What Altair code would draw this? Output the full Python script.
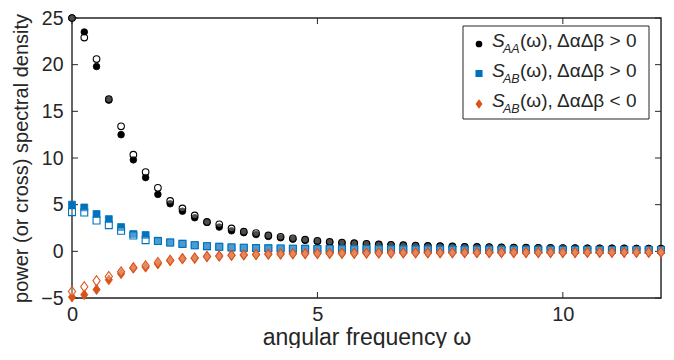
import altair as alt
import pandas as pd

# ---------------- data ----------------
omega = [0.0, 0.25, 0.5, 0.75, 1.0, 1.25, 1.5, 1.75, 2.0, 2.25, 2.5, 2.75,
         3.0, 3.25, 3.5, 3.75, 4.0, 4.25, 4.5, 4.75, 5.0, 5.25, 5.5, 5.75,
         6.0, 6.25, 6.5, 6.75, 7.0, 7.25, 7.5, 7.75, 8.0, 8.25, 8.5, 8.75,
         9.0, 9.25, 9.5, 9.75, 10.0, 10.25, 10.5, 10.75, 11.0, 11.25, 11.5, 11.75, 12.0]

saa_filled = [25.0, 23.5, 19.8, 16.2, 12.5, 9.8, 7.9, 6.1, 5.1, 4.3, 3.6, 3.1,
              2.6, 2.2, 2.0, 1.8, 1.6, 1.45, 1.3, 1.18, 1.07, 0.98, 0.9, 0.84,
              0.78, 0.72, 0.68, 0.64, 0.6, 0.57, 0.54, 0.51, 0.48, 0.46, 0.44, 0.42,
              0.4, 0.39, 0.37, 0.36, 0.35, 0.34, 0.33, 0.32, 0.31, 0.3, 0.3, 0.29, 0.28]
saa_open = [25.0, 22.9, 20.6, 16.3, 13.4, 10.35, 8.5, 6.8, 5.4, 4.6, 3.85, 3.15,
            2.9, 2.45, 2.1, 1.95, 1.7, 1.55, 1.4, 1.25, 1.12, 1.02, 0.94, 0.87,
            0.8, 0.74, 0.7, 0.66, 0.62, 0.58, 0.55, 0.52, 0.49, 0.47, 0.45, 0.43,
            0.41, 0.39, 0.38, 0.37, 0.35, 0.34, 0.33, 0.32, 0.31, 0.31, 0.3, 0.29, 0.29]

sab_pos_filled = [5.0, 4.7, 4.0, 3.45, 2.6, 1.85, 1.75, 1.13, 0.95, 0.8, 0.65, 0.55,
                  0.48, 0.42, 0.38, 0.35, 0.32, 0.3, 0.28, 0.27, 0.26, 0.25, 0.24, 0.23,
                  0.22, 0.22, 0.21, 0.21, 0.2, 0.2, 0.19, 0.19, 0.18, 0.18, 0.18, 0.17,
                  0.17, 0.17, 0.16, 0.16, 0.16, 0.16, 0.15, 0.15, 0.15, 0.15, 0.15, 0.14, 0.14]
sab_pos_open = [4.2, 4.15, 3.3, 2.8, 2.2, 1.7, 1.2, 1.1, 0.95, 0.8, 0.65, 0.55,
                0.48, 0.42, 0.38, 0.35, 0.32, 0.3, 0.28, 0.27, 0.26, 0.25, 0.24, 0.23,
                0.22, 0.22, 0.21, 0.21, 0.2, 0.2, 0.19, 0.19, 0.18, 0.18, 0.18, 0.17,
                0.17, 0.17, 0.16, 0.16, 0.16, 0.16, 0.15, 0.15, 0.15, 0.15, 0.15, 0.14, 0.14]

sab_neg_filled = [-4.9, -4.65, -4.1, -3.05, -2.4, -1.8, -1.7, -1.35, -1.0, -0.8, -0.75, -0.55,
                  -0.5, -0.42, -0.38, -0.34, -0.3, -0.28, -0.26, -0.24, -0.23, -0.22, -0.21, -0.2,
                  -0.19, -0.18, -0.18, -0.17, -0.16, -0.16, -0.15, -0.15, -0.14, -0.14, -0.14, -0.13,
                  -0.13, -0.13, -0.12, -0.12, -0.12, -0.12, -0.11, -0.11, -0.11, -0.11, -0.1, -0.1, -0.1]
sab_neg_open = [-4.3, -3.8, -3.15, -2.7, -2.2, -1.75, -1.55, -1.2, -0.95, -0.78, -0.72, -0.55,
                -0.5, -0.42, -0.38, -0.34, -0.3, -0.28, -0.26, -0.24, -0.23, -0.22, -0.21, -0.2,
                -0.19, -0.18, -0.18, -0.17, -0.16, -0.16, -0.15, -0.15, -0.14, -0.14, -0.14, -0.13,
                -0.13, -0.13, -0.12, -0.12, -0.12, -0.12, -0.11, -0.11, -0.11, -0.11, -0.1, -0.1, -0.1]

x_ticks = [0, 5, 10]
y_ticks = [-5, 0, 5, 10, 15, 20, 25]

legend_labels = ["AA", "AB", "AB"]
legend_rest = ["(ω), ΔαΔβ > 0", "(ω), ΔαΔβ > 0", "(ω), ΔαΔβ < 0"]

# ---------------- styling ----------------
W, H = 589, 280
TOP = 10
FONT = "Liberation Sans"
AX = "#262626"
BLACK, BLUE, ORANGE = "#000000", "#0072BD", "#D95319"
DIAMOND = "M0,-1L0.72,0L0,1L-0.72,0Z"

xs = alt.Scale(domain=[0, 12], nice=False, zero=False)
ys = alt.Scale(domain=[-5, 25], nice=False, zero=False)

x_axis = alt.Axis(values=x_ticks, title="angular frequency ω", ticks=False, tickSize=0,
                  domain=False, grid=False, labelFontSize=20, titleFontSize=23,
                  titleFontWeight="normal", labelFont=FONT, titleFont=FONT, labelFlush=False,
                  labelPadding=6, titlePadding=2, labelColor=AX, titleColor=AX)
y_axis = alt.Axis(values=y_ticks, title="power (or cross) spectral density", ticks=False,
                  tickSize=0, domain=False, grid=False, labelFontSize=19.5, titleFontSize=20,
                  titleFontWeight="normal", labelFont=FONT, titleFont=FONT, titleLimit=400,
                  labelFlush=False, labelPadding=9, titlePadding=9, labelColor=AX,
                  titleColor=AX)

X = lambda f: alt.X(f, scale=xs, axis=x_axis)
Y = lambda f: alt.Y(f, scale=ys, axis=y_axis)

one = pd.DataFrame({"a": [0]})
layers = []

# plot box (drawn beneath the markers)
layers.append(
    alt.Chart(one).mark_rect(fill="white", stroke=AX, strokeWidth=1.4).encode(
        x=alt.value(0), x2=alt.value(W), y=alt.value(0), y2=alt.value(H))
)

# inward MATLAB-style ticks on all four sides
xt = pd.DataFrame({"t": x_ticks})
yt = pd.DataFrame({"t": y_ticks})
tick = dict(color=AX, strokeWidth=1)
layers += [
    alt.Chart(xt).mark_rule(**tick).encode(x=X("t:Q"), y=alt.value(H), y2=alt.value(H - 6)),
    alt.Chart(xt).mark_rule(**tick).encode(x=X("t:Q"), y=alt.value(0), y2=alt.value(6)),
    alt.Chart(yt).mark_rule(**tick).encode(y=Y("t:Q"), x=alt.value(0), x2=alt.value(6)),
    alt.Chart(yt).mark_rule(**tick).encode(y=Y("t:Q"), x=alt.value(W), x2=alt.value(W - 6)),
]


def frame(xv, yv):
    return pd.DataFrame({"omega": xv, "value": yv})


def points(yv, shape, size, color, filled):
    if filled:
        m = alt.Chart(frame(omega, yv)).mark_point(
            shape=shape, size=size, filled=True, fill=color, stroke=color,
            strokeWidth=0.8, opacity=1)
    else:
        m = alt.Chart(frame(omega, yv)).mark_point(
            shape=shape, size=size, filled=True, fill="white", fillOpacity=0.3,
            stroke=color, strokeWidth=1.1, opacity=1)
    return m.encode(x=X("omega:Q"), y=Y("value:Q"))


layers += [
    points(saa_filled, "circle", 44, BLACK, True),
    points(saa_open, "circle", 44, BLACK, False),
    points(sab_pos_filled, "square", 48, BLUE, True),
    points(sab_pos_open, "square", 48, BLUE, False),
    points(sab_neg_filled, DIAMOND, 100, ORANGE, True),
    points(sab_neg_open, DIAMOND, 100, ORANGE, False),
]

# legend box
L0 = 26 - 8 - TOP  # legend top in plot coordinates
layers.append(
    alt.Chart(one).mark_rect(fill="white", stroke=AX, strokeWidth=1).encode(
        x=alt.value(391), x2=alt.value(577), y=alt.value(L0), y2=alt.value(L0 + 93))
)
leg_y = [L0 + 18, L0 + 47.5, L0 + 78]
leg_marks = [("circle", 22, BLACK), ("square", 26, BLUE), (DIAMOND, 40, ORANGE)]
for i in range(3):
    shp, sz, col = leg_marks[i]
    layers.append(
        alt.Chart(one).mark_point(shape=shp, size=sz, filled=True, fill=col, stroke=col,
                                  opacity=1).encode(x=alt.value(407), y=alt.value(leg_y[i]))
    )
    base = leg_y[i] + 3
    layers.append(
        alt.Chart(one).mark_text(align="left", baseline="alphabetic", font=FONT, fontSize=19,
                                 fontStyle="italic", color=AX).encode(
            x=alt.value(420), y=alt.value(base), text=alt.value("S"))
    )
    layers.append(
        alt.Chart(one).mark_text(align="left", baseline="alphabetic", font=FONT, fontSize=12.5,
                                 fontStyle="italic", color=AX).encode(
            x=alt.value(431), y=alt.value(base + 6), text=alt.value(legend_labels[i]))
    )
    layers.append(
        alt.Chart(one).mark_text(align="left", baseline="alphabetic", font=FONT, fontSize=19,
                                 color=AX).encode(
            x=alt.value(448), y=alt.value(base), text=alt.value(legend_rest[i]))
    )

chart = alt.layer(*layers).properties(
    width=W, height=H,
    autosize=alt.AutoSizeParams(type="none"),
    padding={"left": 64, "top": TOP, "right": 5, "bottom": 50},
).configure_view(stroke=None).configure(background="white")

chart.save("out.html", embed_options={"renderer": "svg", "actions": False})
